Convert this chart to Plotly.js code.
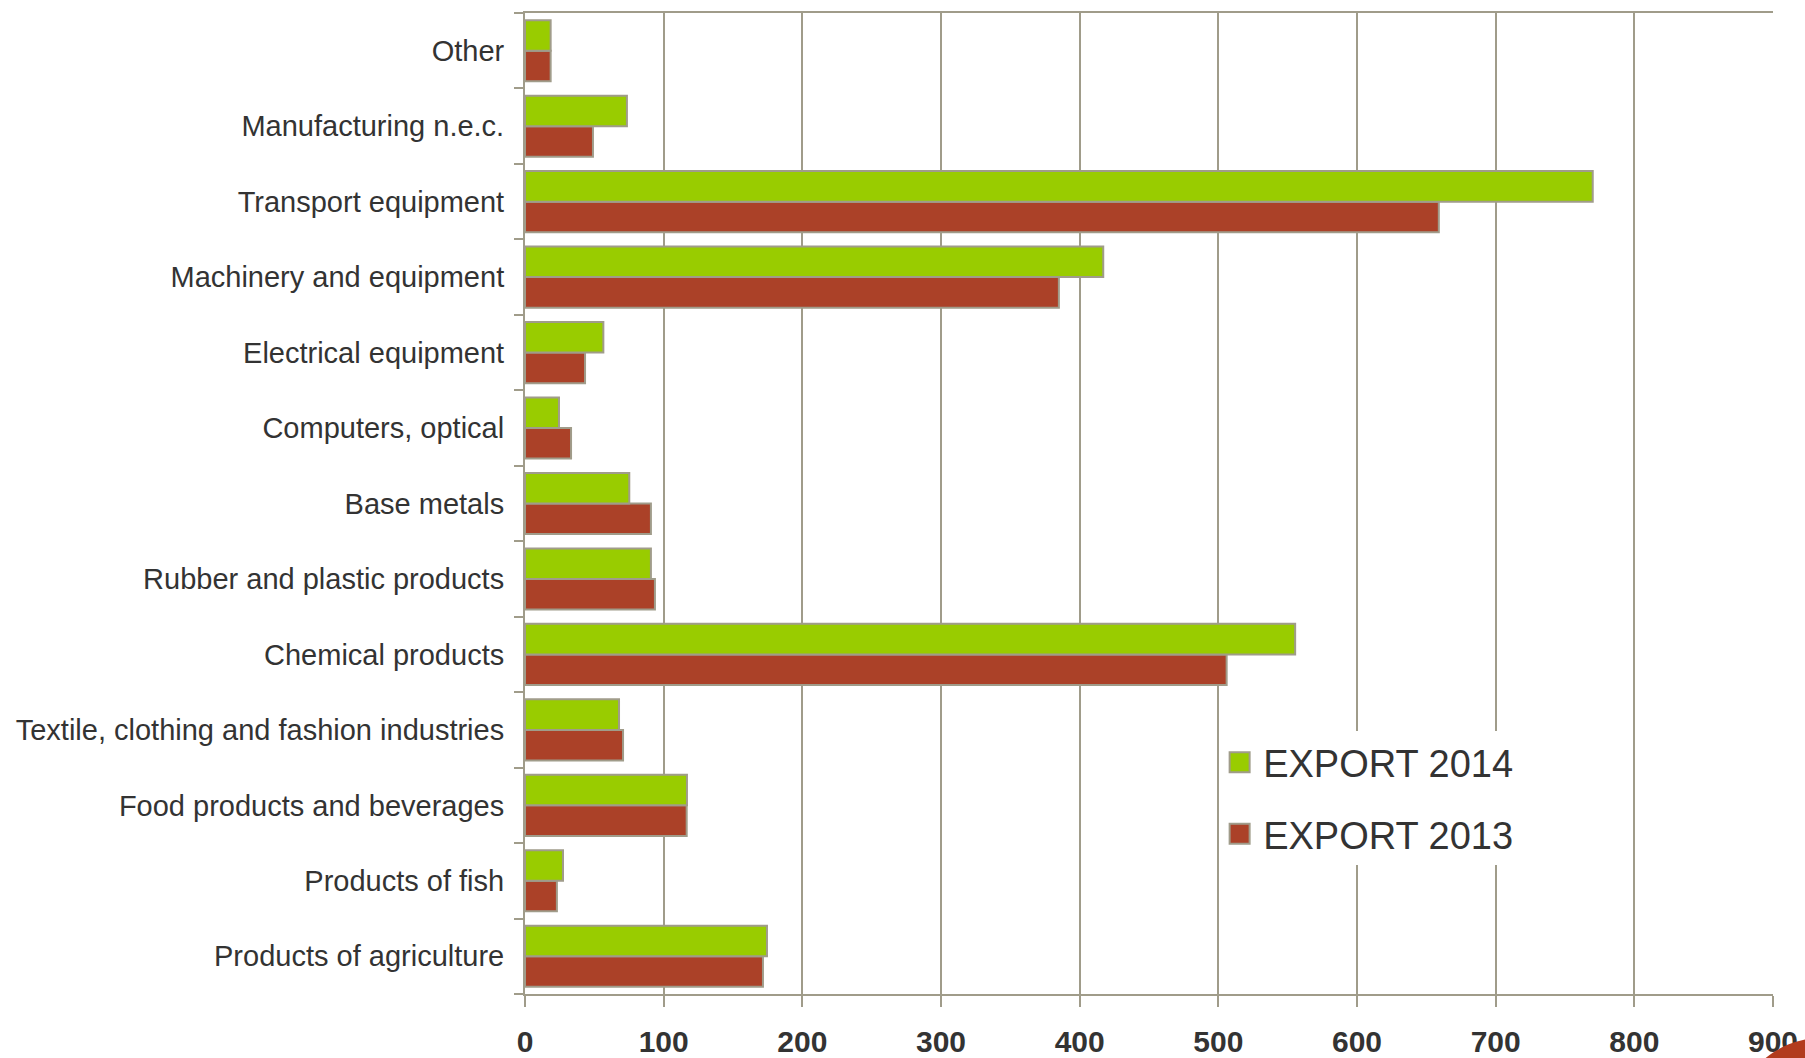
<!DOCTYPE html>
<html>
<head>
<meta charset="utf-8">
<script src="https://cdn.plot.ly/plotly-3.0.1.min.js"></script>
<style>html,body{margin:0;padding:0;background:#fff;}#chart{width:1805px;height:1058px;}</style>
</head>
<body>
<div id="chart"></div>
<script>
// Categories listed bottom -> top
const categories = [
  "Products of agriculture",
  "Products of fish",
  "Food products and beverages",
  "Textile, clothing and fashion industries",
  "Chemical products",
  "Rubber and plastic products",
  "Base metals",
  "Computers, optical",
  "Electrical equipment",
  "Machinery and equipment",
  "Transport equipment",
  "Manufacturing n.e.c.",
  "Other"
];
const export2014 = [174.5, 27.4, 116.8, 67.8, 555.4, 90.8, 75.2, 24.5, 56.5, 417, 770, 73.5, 18.5];
const export2013 = [171.6, 23.0, 116.6, 70.7, 506.0, 93.7, 90.8, 33.2, 43.3, 385, 659, 49.0, 18.5];
const xTicks = [0, 100, 200, 300, 400, 500, 600, 700, 800, 900];

const edge = '#a09c8a';
const traces = [
  {
    type: 'bar', orientation: 'h', name: 'EXPORT 2013', legendgroup: 'g2013', legendrank: 2,
    y: categories, x: export2013,
    marker: {color: '#ab4128', line: {color: edge, width: 2}},
    hoverinfo: 'x+y'
  },
  {
    type: 'bar', orientation: 'h', name: 'EXPORT 2014', legendgroup: 'g2014', legendrank: 1,
    y: categories, x: export2014,
    marker: {color: '#99cc00', line: {color: edge, width: 2}},
    hoverinfo: 'x+y'
  }
];

const layout = {
  width: 1805, height: 1058,
  margin: {l: 525, r: 32, t: 13, b: 64, pad: 0},
  paper_bgcolor: '#ffffff', plot_bgcolor: '#ffffff',
  font: {family: '"Liberation Sans", Arial, sans-serif', color: '#333333', size: 29},
  barmode: 'group', bargap: 0.19, bargroupgap: 0,
  showlegend: true,
  legend: {
    x: 0.5594, xanchor: 'left', y: 0.2680, yanchor: 'top',
    bgcolor: '#ffffff', borderwidth: 0,
    traceorder: 'grouped', tracegroupgap: 19,
    font: {size: 38, color: '#333333'}
  },
  xaxis: {
    range: [0, 900], tickvals: xTicks, ticktext: xTicks.map(String),
    showgrid: true, gridcolor: edge, gridwidth: 2,
    showline: true, linecolor: edge, linewidth: 2, mirror: true,
    ticks: 'outside', ticklen: 11, tickwidth: 2, tickcolor: edge,
    ticklabelstandoff: 9,
    tickfont: {size: 30, color: '#333333', weight: 'bold'},
    zeroline: false, fixedrange: true
  },
  yaxis: {
    type: 'category', categoryorder: 'array', categoryarray: categories,
    showgrid: false,
    showline: true, linecolor: edge, linewidth: 2,
    ticks: 'outside', tickson: 'boundaries', ticklen: 9, tickwidth: 2, tickcolor: edge,
    ticklabelstandoff: 13,
    tickfont: {size: 29, color: '#333333'},
    fixedrange: true
  },
  shapes: [
    {type: 'circle', xref: 'paper', yref: 'paper', layer: 'above',
     x0: 0.9671, x1: 1.1130, y0: -0.2300, y1: -0.0445,
     fillcolor: '#b23c1e', line: {width: 0}}
  ]
};

function enlargeLegendSymbols(gd) {
  gd.querySelectorAll('.legend .legendpoints path').forEach(function (p) {
    p.setAttribute('d', 'M6.5,10H-13.5V-10H6.5Z');
    p.style.strokeWidth = '2px';
  });
}

Plotly.newPlot('chart', traces, layout, {displayModeBar: false, staticPlot: true})
  .then(function (gd) {
    enlargeLegendSymbols(gd);
    gd.on('plotly_afterplot', function () { enlargeLegendSymbols(gd); });
  });
</script>
</body>
</html>
